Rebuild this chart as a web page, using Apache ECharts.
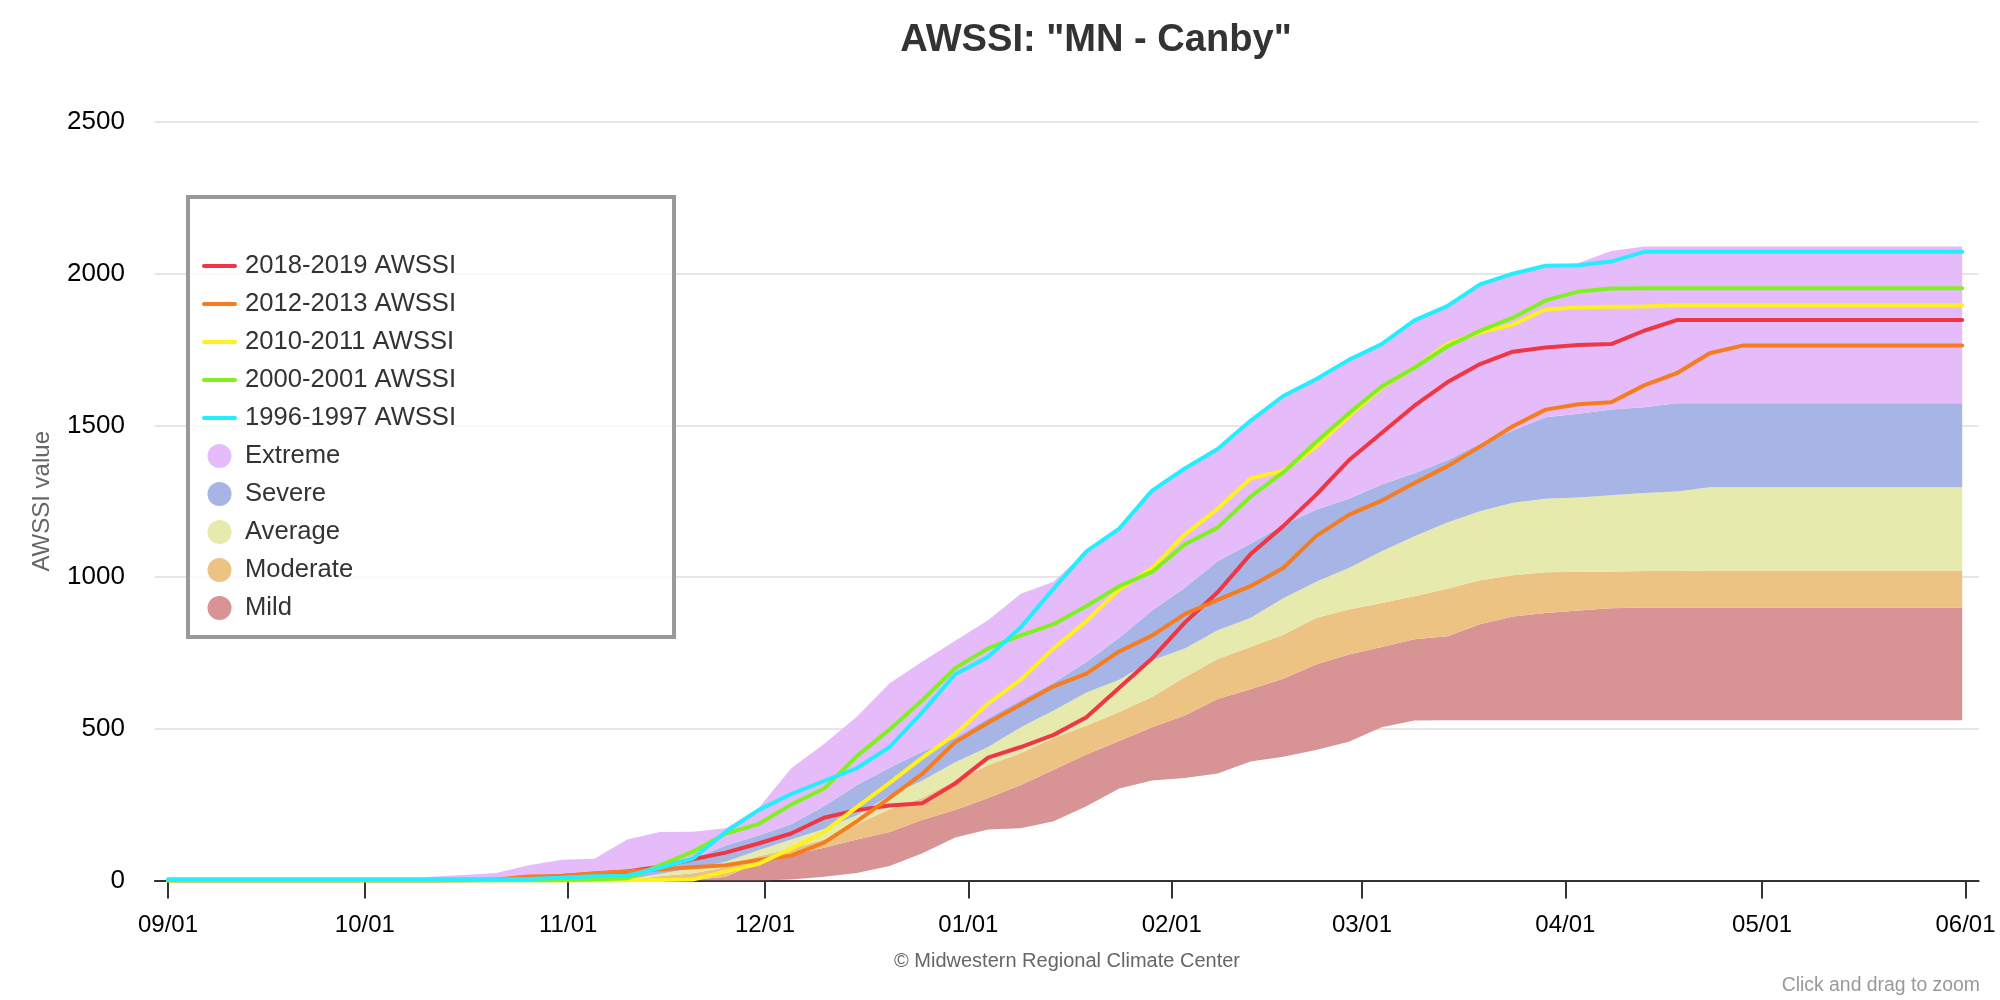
<!DOCTYPE html>
<html lang="en">

<head>
  <meta charset="UTF-8">
  <title>AWSSI: "MN - Canby"</title>
  <style>
    html, body { margin: 0; background: #fff; }
    #chart { width: 2000px; height: 1000px; }
  </style>
</head>

<body>
  <div id="chart"></div>
</body>
<script src="https://cdn.jsdelivr.net/npm/echarts@6/dist/echarts.min.js"></script>
<script>
  // days after 09/01, one value per day in every list below
  let sampleDays = [
    0, 5, 10, 15, 20, 25, 30, 35, 40, 45,
    50, 55, 60, 65, 70, 75, 80, 85, 90, 95,
    100, 105, 110, 115, 120, 125, 130, 135, 140, 145,
    150, 155, 160, 165, 170, 175, 180, 185, 190, 195,
    200, 205, 210, 215, 220, 225, 230, 235, 240, 245,
    250, 255, 260, 265, 270, 273.5
  ]
  let tickDays = [0, 30, 61, 91, 122, 153, 182, 213, 243, 274]
  let tickLabels = ['09/01', '10/01', '11/01', '12/01', '01/01', '02/01', '03/01', '04/01', '05/01', '06/01']

  // band boundaries
  let mildLow = [
    0, 0, 0, 0, 0, 0, 0, 0, 0, 0,
    0, 0, 0, 0, 0, 0, 0, 0, 0, 3,
    12, 25, 48, 90, 142, 168, 172, 195, 245, 303,
    330, 338, 353, 392, 408, 430, 457, 505, 527, 528,
    528, 528, 528, 528, 528, 528, 528, 528, 528, 528,
    528, 528, 528, 528, 528, 528
  ]
  let mildTop = [
    0, 0, 0, 0, 0, 0, 0, 0, 0, 0,
    0, 0, 0, 0, 0, 0, 2, 12, 60, 85,
    108, 135, 160, 200, 232, 272, 315, 365, 415, 460,
    505, 544, 598, 630, 665, 712, 745, 770, 795, 805,
    845, 870, 882, 890, 897, 900, 900, 900, 900, 900,
    900, 900, 900, 900, 900, 900
  ]
  let moderateTop = [
    0, 0, 0, 0, 0, 0, 0, 0, 0, 0,
    0, 0, 0, 0, 2, 14, 24, 44, 80, 105,
    135, 185, 235, 272, 330, 380, 420, 470, 510, 555,
    605, 670, 730, 770, 810, 865, 893, 915, 937, 962,
    990, 1006, 1016, 1018, 1018, 1020, 1020, 1022, 1022, 1022,
    1022, 1022, 1022, 1022, 1022, 1022
  ]
  let averageTop = [
    0, 0, 0, 0, 0, 0, 0, 0, 0, 0,
    0, 0, 0, 0, 3, 22, 40, 62, 100, 135,
    170, 215, 280, 330, 390, 440, 505, 560, 620, 662,
    726, 765, 825, 865, 930, 985, 1030, 1085, 1135, 1180,
    1217, 1245, 1258, 1262, 1270, 1277, 1282, 1296, 1296, 1296,
    1296, 1296, 1296, 1296, 1296, 1296
  ]
  let severeTop = [
    0, 0, 0, 0, 0, 0, 0, 0, 0, 0,
    0, 0, 0, 0, 5, 45, 72, 115, 148, 185,
    245, 315, 372, 425, 470, 535, 595, 652, 720, 800,
    890, 965, 1052, 1110, 1172, 1222, 1258, 1305, 1342, 1385,
    1440, 1483, 1527, 1538, 1552, 1560, 1573, 1573, 1573, 1573,
    1573, 1573, 1573, 1573, 1573, 1573
  ]
  let extremeTop = [
    0, 0, 0, 0, 0, 0, 0, 0, 12, 18,
    25, 50, 68, 72, 135, 160, 161, 172, 238, 370,
    450, 540, 650, 722, 790, 858, 945, 985, 1085, 1160,
    1285, 1358, 1422, 1515, 1597, 1652, 1716, 1768, 1846, 1893,
    1965, 2000, 2026, 2035, 2075, 2090, 2090, 2090, 2090, 2090,
    2090, 2090, 2090, 2090, 2090, 2090
  ]

  // season lines
  let season2018 = [
    0, 0, 0, 0, 0, 0, 0, 0, 0, 1,
    2, 8, 15, 22, 30, 45, 70, 92, 122, 155,
    207, 232, 247, 255, 320, 405, 440, 480, 538, 635,
    732, 850, 950, 1075, 1168, 1271, 1385, 1475, 1565, 1642,
    1702, 1743, 1757, 1765, 1768, 1812, 1847, 1847, 1847, 1847,
    1847, 1847, 1847, 1847, 1847, 1847
  ]
  let season2012 = [
    0, 0, 0, 0, 0, 0, 0, 0, 0, 0,
    3, 13, 15, 24, 30, 37, 44, 50, 68, 82,
    125, 195, 272, 352, 456, 520, 580, 640, 682, 755,
    807, 878, 925, 970, 1030, 1135, 1205, 1252, 1310, 1365,
    1430, 1497, 1552, 1570, 1576, 1632, 1672, 1738, 1763, 1763,
    1763, 1763, 1763, 1763, 1763, 1763
  ]
  let season2010 = [
    0, 0, 0, 0, 0, 0, 0, 0, 0, 0,
    0, 0, 0, 0, 1, 2, 3, 30, 55, 105,
    160, 242, 322, 405, 482, 583, 662, 765, 855, 960,
    1029, 1140, 1225, 1325, 1350, 1430, 1530, 1625, 1690, 1768,
    1807, 1832, 1882, 1889, 1891, 1892, 1896, 1896, 1896, 1896,
    1896, 1896, 1896, 1896, 1896, 1896
  ]
  let season2000 = [
    0, 0, 0, 0, 0, 0, 0, 0, 0, 0,
    0, 0, 1, 3, 7, 50, 95, 155, 186, 250,
    303, 410, 498, 595, 700, 765, 808, 845, 905, 970,
    1017, 1108, 1163, 1265, 1345, 1445, 1540, 1628, 1690, 1760,
    1812, 1855, 1912, 1941, 1951, 1952, 1952, 1952, 1952, 1952,
    1952, 1952, 1952, 1952, 1952, 1952
  ]
  let season1996 = [
    4, 4, 4, 4, 4, 4, 4, 4, 4, 4,
    4, 5, 9, 14, 16, 42, 72, 160, 232, 285,
    328, 370, 440, 555, 680, 737, 835, 962, 1085, 1160,
    1285, 1358, 1422, 1515, 1597, 1652, 1716, 1768, 1846, 1893,
    1965, 2000, 2026, 2028, 2040, 2072, 2072, 2072, 2072, 2072,
    2072, 2072, 2072, 2072, 2072, 2072
  ]

  const fontName = 'Liberation Sans'
  // half day categories, the axis runs 2 days past 09/01 and 06/01 on both sides
  const axisStartDay = -2
  const axisEndDay = 276
  let axisDays = []
  for (let d = axisStartDay; d <= axisEndDay; d += 0.5) axisDays.push(d)

  function toPairs(values) {
    return values.map((v, i) => [(sampleDays[i] - axisStartDay) * 2, v])
  }

  // the stack needs band heights, the lists hold the boundaries
  function bandSeries(name, color, top, bottom) {
    return {
      name: name,
      type: 'line',
      stack: 'bands',
      symbol: 'none',
      silent: true,
      color: color,
      lineStyle: { width: 0 },
      areaStyle: { color: color, opacity: 1 },
      data: toPairs(top.map((v, i) => v - bottom[i]))
    }
  }

  function seasonSeries(name, color, values) {
    return {
      name: name,
      type: 'line',
      symbol: 'none',
      silent: true,
      color: color,
      lineStyle: { color: color, width: 4, cap: 'round', join: 'round' },
      data: toPairs(values)
    }
  }

  let seasonNames = ['2018-2019 AWSSI', '2012-2013 AWSSI', '2010-2011 AWSSI', '2000-2001 AWSSI', '1996-1997 AWSSI']
  let bandNames = ['Extreme', 'Severe', 'Average', 'Moderate', 'Mild']

  let chart = echarts.init(document.getElementById('chart'))
  chart.setOption({
    animation: false,
    backgroundColor: '#fff',
    textStyle: { fontFamily: fontName },
    title: [
      {
        text: 'AWSSI: "MN - Canby"',
        left: 1091,
        top: 16,
        textAlign: 'center',
        textStyle: { fontFamily: fontName, fontSize: 38.1, fontWeight: 'bold', color: '#333' }
      },
      {
        text: '© Midwestern Regional Climate Center',
        left: 1062,
        top: 946,
        textAlign: 'center',
        textStyle: { fontFamily: fontName, fontSize: 20, fontWeight: 'normal', color: '#666' }
      },
      {
        text: 'Click and drag to zoom',
        left: 1975,
        top: 971,
        textAlign: 'right',
        textStyle: { fontFamily: fontName, fontSize: 19.4, fontWeight: 'normal', color: '#999' }
      }
    ],
    legend: {
      left: 188,
      top: 197,
      orient: 'vertical',
      selectedMode: false,
      backgroundColor: 'rgba(255,255,255,0.8)',
      borderColor: '#999',
      borderWidth: 4,
      padding: [56, 218, 16, 14],
      itemWidth: 31,
      itemHeight: 24,
      itemGap: 12,
      lineStyle: { width: 4 },
      textStyle: { fontFamily: fontName, fontSize: 25.6, color: '#333', padding: [0, 0, 0, 5] },
      data: seasonNames.map(name => ({ name: name, itemStyle: { opacity: 0 } }))
        .concat(bandNames.map(name => ({ name: name, icon: 'circle' })))
    },
    grid: { left: 154.9, right: 21.4, top: 122, bottom: 119.5 },
    xAxis: {
      type: 'category',
      boundaryGap: false,
      data: axisDays,
      axisLine: { lineStyle: { color: '#333', width: 2 } },
      axisTick: {
        length: 18,
        lineStyle: { color: '#333', width: 2 },
        interval: (i, day) => tickDays.includes(Number(day))
      },
      axisLabel: {
        fontFamily: fontName,
        fontSize: 24,
        color: '#000',
        margin: 33,
        interval: (i, day) => tickDays.includes(Number(day)),
        formatter: day => tickLabels[tickDays.indexOf(Number(day))]
      }
    },
    yAxis: {
      type: 'value',
      min: 0,
      max: 2500,
      interval: 500,
      name: 'AWSSI value',
      nameLocation: 'middle',
      nameRotate: 90,
      nameGap: 101,
      nameTextStyle: { fontFamily: fontName, fontSize: 24, color: '#666' },
      axisLine: { show: false },
      axisTick: { show: false },
      splitLine: { lineStyle: { color: '#e6e6e6', width: 2 } },
      axisLabel: { fontFamily: fontName, fontSize: 26, color: '#000', margin: 30, formatter: v => String(v) }
    },
    series: [
      {
        name: 'base',
        type: 'line',
        stack: 'bands',
        symbol: 'none',
        silent: true,
        lineStyle: { width: 0 },
        data: toPairs(mildLow)
      },
      bandSeries('Mild', '#D89494', mildTop, mildLow),
      bandSeries('Moderate', '#ECC383', moderateTop, mildTop),
      bandSeries('Average', '#E6EAAC', averageTop, moderateTop),
      bandSeries('Severe', '#A7B4E6', severeTop, averageTop),
      bandSeries('Extreme', '#E6BBFA', extremeTop, severeTop),
      seasonSeries(seasonNames[0], '#EE3644', season2018),
      seasonSeries(seasonNames[1], '#F57C1F', season2012),
      seasonSeries(seasonNames[2], '#FFF020', season2010),
      seasonSeries(seasonNames[3], '#80F020', season2000),
      seasonSeries(seasonNames[4], '#22EEFF', season1996)
    ]
  })
</script>

</html>
